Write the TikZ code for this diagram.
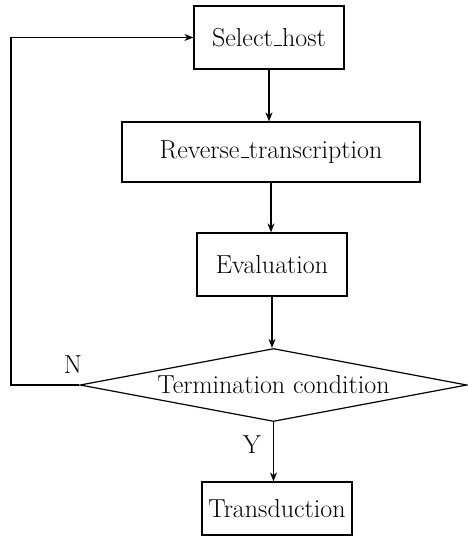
\documentclass[tikz,border=0pt]{standalone}
\usetikzlibrary{shapes.geometric,arrows.meta}
\newcommand\usc{\kern.06em\vbox{\hrule height 1pt width .3em}}
\begin{document}
\begin{tikzpicture}[x=1pt,y=1pt,
  every node/.style={font=\fontsize{26}{31}\selectfont},
  box/.style={draw,line width=1.2pt,inner sep=0pt,minimum width=150pt,minimum height=63pt},
  arr/.style={line width=1.2pt,-{Stealth[length=9pt,width=7pt]}},
  lbl/.style={inner sep=0pt}]
\useasboundingbox (0,0) rectangle (468,-546);
\node[box] (sel) at (269,-37.5) {Select\usc host};
\node[box,minimum width=298pt,minimum height=60pt] (rev) at (271,-152) {Reverse\usc transcription};
\node[box] (eva) at (272,-264.5) {Evaluation};
\node[draw,line width=1.2pt,diamond,inner sep=0pt,minimum width=387pt,minimum height=73pt,shape aspect=5.3] (term) at (273.5,-385) {Termination condition};
\node[box,minimum height=53pt] (tra) at (277,-508.5) {Transduction};
\node[lbl] (n) at (73,-365) {N};
\node[lbl] (y) at (252,-445) {Y};
\coordinate (c1) at (11,-385);
\coordinate (c2) at (11,-37.5);
\draw[arr] (sel.south) -- (sel.south |- rev.north);
\draw[arr] (rev.south) -- (rev.south |- eva.north);
\draw[arr] (eva.south) -- (eva.south |- term.north);
\draw[arr] (term.south) -- (term.south |- tra.north);
\draw[arr] (term.west) -- (c1) -- (c2) -- (sel.west);
\end{tikzpicture}
\end{document}
